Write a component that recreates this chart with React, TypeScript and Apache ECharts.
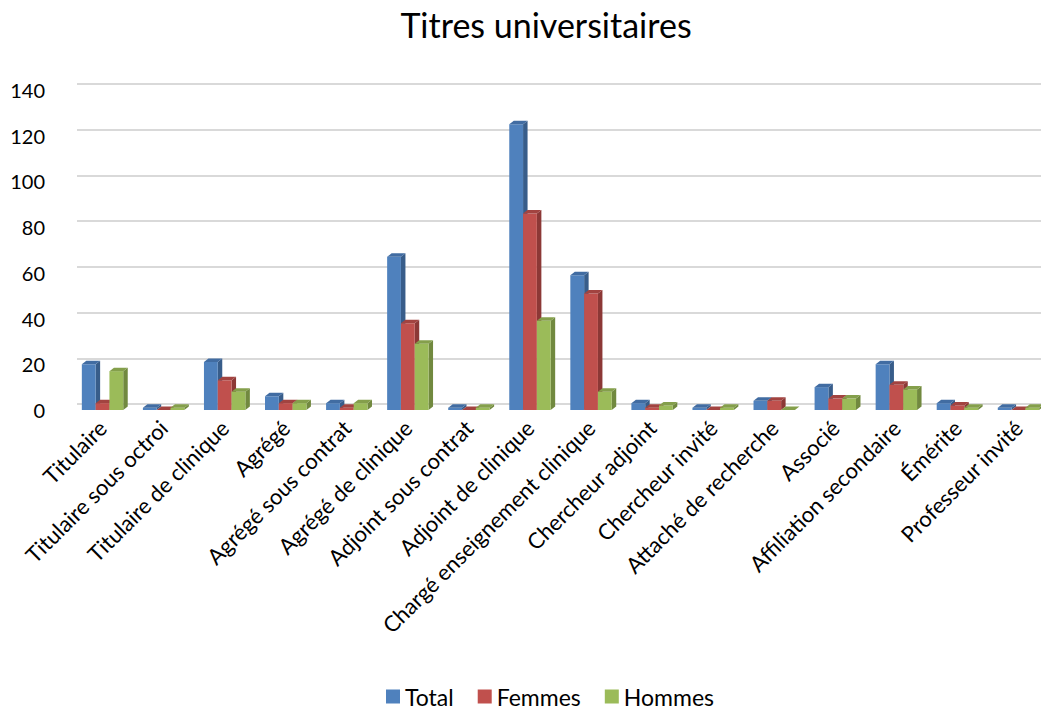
import React, { useEffect, useRef } from "react";
import * as echarts from "echarts";

const categories = [
  "Titulaire",
  "Titulaire sous octroi",
  "Titulaire de clinique",
  "Agrégé",
  "Agrégé sous contrat",
  "Agrégé de clinique",
  "Adjoint sous contrat",
  "Adjoint de clinique",
  "Chargé enseignement clinique",
  "Chercheur adjoint",
  "Chercheur invité",
  "Attaché de recherche",
  "Associé",
  "Affiliation secondaire",
  "Émérite",
  "Professeur invité",
];
const totalValues = [20, 1, 21, 6, 3, 67, 1, 125, 59, 3, 1, 4, 10, 20, 3, 1];
const femmesValues = [3, 0, 13, 3, 1, 38, 0, 86, 51, 1, 0, 4, 5, 11, 2, 0];
const hommesValues = [17, 1, 8, 3, 3, 29, 1, 39, 8, 2, 1, 0, 5, 9, 1, 1];
const seriesNames = ["Total", "Femmes", "Hommes"];
const yTicks = { min: 0, max: 140, interval: 20 };

const FONT = "Lato, 'Open Sans', sans-serif";
const palette = [
  { front: "#4F81BD", side: "#385D8A", top: "#416CA2" },
  { front: "#C0504D", side: "#8C3836", top: "#A24340" },
  { front: "#9BBB59", side: "#71893F", top: "#849F4B" },
];

function makeRender(si: number) {
  return (params: any, api: any) => {
    const idx = api.value(0);
    const val = api.value(1);
    const top = api.coord([idx, val]);
    const base = api.coord([idx, 0]);
    const band = api.size([1, 0])[0];
    const w = band * 0.226;
    const x = top[0] + (si - 1.5) * w;
    const yT = top[1];
    const yB = base[1];
    const dx = 4.5;
    const dy = 3.5;
    const c = palette[si];
    return {
      type: "group",
      children: [
        {
          type: "polygon",
          shape: { points: [[x + w, yT], [x + w + dx, yT - dy], [x + w + dx, yB - dy], [x + w, yB]] },
          style: { fill: c.side },
        },
        {
          type: "rect",
          shape: { x, y: yT, width: w, height: yB - yT },
          style: { fill: c.front },
        },
        {
          type: "polygon",
          shape: { points: [[x, yT], [x + dx, yT - dy], [x + w + dx, yT - dy], [x + w, yT]] },
          style: { fill: c.top },
        },
      ],
    };
  };
}

export default function App() {
  const ref = useRef<HTMLDivElement>(null);
  useEffect(() => {
    if (!ref.current) return;
    const chart = echarts.init(ref.current, undefined, { renderer: "svg" });
    const all = [totalValues, femmesValues, hommesValues];
    chart.setOption({
      animation: false,
      backgroundColor: "#ffffff",
      title: {
        text: "Titres universitaires",
        left: 541,
        textAlign: "center",
        top: 2,
        textStyle: { fontFamily: FONT, fontSize: 34, fontWeight: "normal", color: "#000" },
      },
      legend: {
        left: 386,
        top: 685,
        padding: 0,
        itemWidth: 14,
        itemHeight: 14,
        itemGap: 24,
        icon: "rect",
        textStyle: { fontFamily: FONT, fontSize: 23, color: "#000" },
        data: seriesNames,
      },
      grid: [
        { left: 72, top: 90, bottom: 299, width: 979 },
        { left: 77, top: 84, bottom: 305, width: 979 },
      ],
      xAxis: [
        {
          type: "category",
          gridIndex: 0,
          data: categories,
          axisLine: { show: false },
          axisTick: { show: false },
          axisLabel: {
            interval: 0,
            rotate: 45,
            margin: 14,
            fontFamily: FONT,
            fontSize: 22,
            color: "#000",
          },
        },
        { type: "category", gridIndex: 1, data: categories, show: false },
      ],
      yAxis: [
        {
          type: "value",
          gridIndex: 0,
          min: yTicks.min,
          max: yTicks.max,
          interval: yTicks.interval,
          axisLine: { show: false },
          axisTick: { show: false },
          splitLine: { show: false },
          axisLabel: { margin: 27, fontFamily: FONT, fontSize: 20, color: "#000" },
        },
        {
          type: "value",
          gridIndex: 1,
          min: yTicks.min,
          max: yTicks.max,
          interval: yTicks.interval,
          axisLine: { show: false },
          axisTick: { show: false },
          axisLabel: { show: false },
          splitLine: { show: true, lineStyle: { color: "#d9d9d9", width: 2 } },
        },
      ],
      series: seriesNames.map((name, si) => ({
        name,
        type: "custom",
        xAxisIndex: 0,
        yAxisIndex: 0,
        itemStyle: { color: palette[si].front },
        renderItem: makeRender(si),
        encode: { x: 0, y: 1 },
        data: all[si].map((v, i) => [i, v]),
        z: 2 + si,
      })),
    });
    return () => chart.dispose();
  }, []);
  return <div ref={ref} style={{ width: 1049, height: 709, marginLeft: -8, marginTop: -8 }} />;
}
